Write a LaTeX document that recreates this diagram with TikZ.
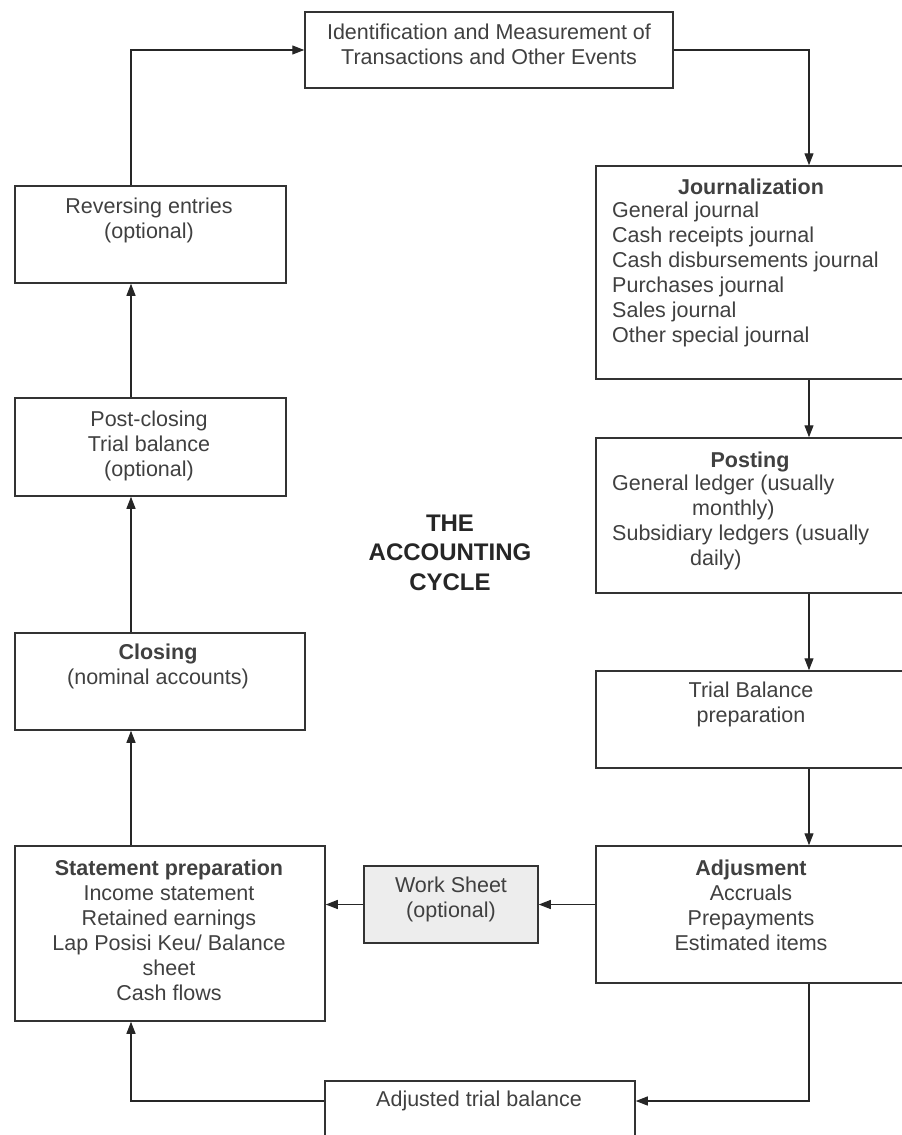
\documentclass[tikz,border=0pt]{standalone}
\usepackage{fontspec}
\setmainfont{Liberation Sans}
\usetikzlibrary{arrows.meta}

\begin{document}
\begin{tikzpicture}[x=1pt,y=-1pt,
        box/.style={shape=rectangle,draw=black!80,line width=1.5pt,inner sep=0pt},
        txt/.style={inner sep=0pt,align=center,text=black!75,font=\fontsize{21.5}{25}\selectfont},
        arrow/.style={draw=black!85,line width=1.2pt,-{Triangle[length=12pt,width=9pt]}}]

        \useasboundingbox (0,0) rectangle (902,1135);

        % x of the vertical connectors
        \coordinate (lcol) at (131,0);
        \coordinate (rcol) at (809,0);

        % boxes
        \node[box,minimum width=368pt,minimum height=76pt] (ident) at (489,50) {};
        \node[box,minimum width=316pt,minimum height=213pt] (journal) at (754,272.5) {};
        \node[box,minimum width=316pt,minimum height=155pt] (posting) at (754,515.5) {};
        \node[box,minimum width=316pt,minimum height=97pt] (trial) at (754,719.5) {};
        \node[box,minimum width=316pt,minimum height=137pt] (adjust) at (754,914.5) {};
        \node[box,fill=black!7,minimum width=174pt,minimum height=77pt] (sheet) at (451,904.5) {};
        \node[box,minimum width=310pt,minimum height=175pt] (stmt) at (170,933.5) {};
        \node[box,minimum width=310pt,minimum height=69pt] (atb) at (480,1115.5) {};
        \node[box,minimum width=290pt,minimum height=97pt] (closing) at (160,681.5) {};
        \node[box,minimum width=271pt,minimum height=98pt] (postcl) at (150.5,447) {};
        \node[box,minimum width=271pt,minimum height=97pt] (rev) at (150.5,234.5) {};

        % texts
        \node[txt] (identl) at (489,44) {Identification and Measurement of\\Transactions and Other Events};
        \node[txt] (journalh) at (751,187) {\textbf{Journalization}};
        \node[txt,anchor=west,align=left] (journall) at (612,274.5) {General journal\\Cash receipts journal\\Cash disbursements journal\\Purchases journal\\Sales journal\\Other special journal};
        \node[txt] (postingh) at (750,462) {\textbf{Posting}};
        \node[txt,anchor=west,align=left] (postingl) at (612,522.5) {General ledger (usually\\\hspace*{80pt}monthly)\\Subsidiary ledgers (usually\\\hspace*{78pt}daily)};
        \node[txt] (triall) at (751,704.5) {Trial Balance\\preparation};
        \node[txt] (adjustl) at (751,905.5) {\textbf{Adjusment}\\Accruals\\Prepayments\\Estimated items};
        \node[txt] (sheetl) at (451,899.5) {Work Sheet\\(optional)};
        \node[txt] (stmtl) at (169,930) {\textbf{Statement preparation}\\Income statement\\Retained earnings\\Lap Posisi Keu/ Balance\\sheet\\Cash flows};
        \node[txt] (atbl) at (479,1101) {Adjusted trial balance};
        \node[txt] (closingl) at (158,666.5) {\textbf{Closing}\\(nominal accounts)};
        \node[txt] (postcll) at (149,445.5) {Post-closing\\Trial balance\\(optional)};
        \node[txt] (revl) at (149,220) {Reversing entries\\(optional)};
        \node[txt,text=black!85,font=\fontsize{24}{29.5}\selectfont\bfseries] (title) at (450,552.5) {THE\\ACCOUNTING\\CYCLE};

        % connectors
        \draw[arrow] (rev.north -| lcol) |- (ident.west);
        \draw[arrow] (ident.east) -| (journal.north -| rcol);
        \draw[arrow] (journal.south -| rcol) -- (posting.north -| rcol);
        \draw[arrow] (posting.south -| rcol) -- (trial.north -| rcol);
        \draw[arrow] (trial.south -| rcol) -- (adjust.north -| rcol);
        \draw[arrow] (adjust.west |- sheet.east) -- (sheet.east);
        \draw[arrow] (sheet.west) -- (stmt.east |- sheet.west);
        \draw[arrow] (adjust.south -| rcol) |- (atb.east |- atbl);
        \draw[arrow] (atb.west |- atbl) -| (stmt.south -| lcol);
        \draw[arrow] (stmt.north -| lcol) -- (closing.south -| lcol);
        \draw[arrow] (closing.north -| lcol) -- (postcl.south -| lcol);
        \draw[arrow] (postcl.north -| lcol) -- (rev.south -| lcol);

\end{tikzpicture}
\end{document}
